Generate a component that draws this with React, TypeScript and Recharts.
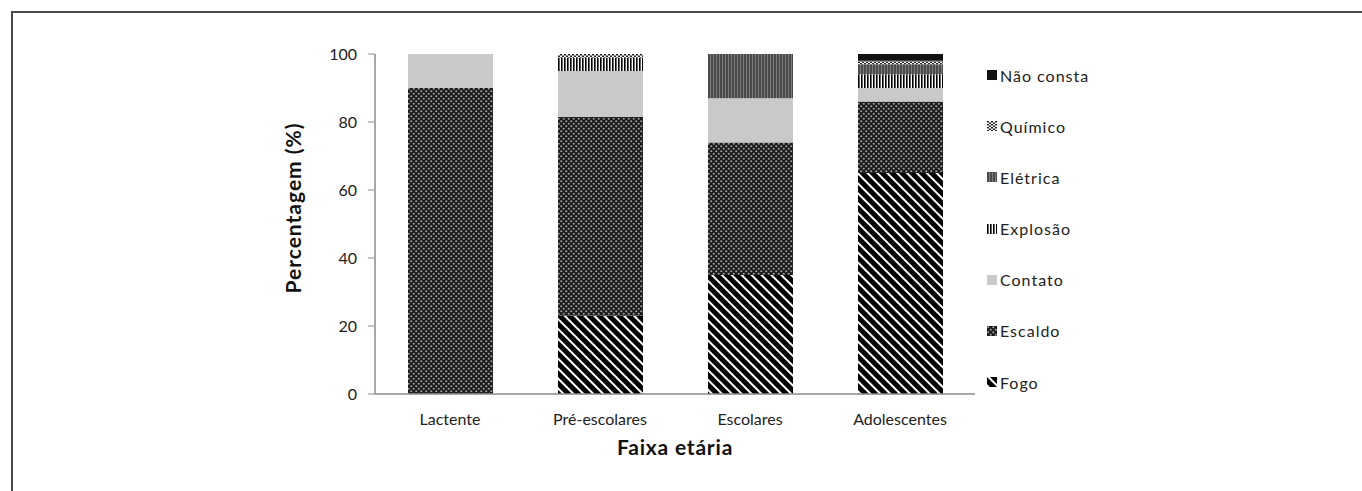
import { BarChart, Bar, XAxis, YAxis } from 'recharts'

// faixas etárias
const categories = ['Lactente', 'Pré-escolares', 'Escolares', 'Adolescentes']

// percentagem por agente causal
const fogo = [0, 23, 35, 65]
const escaldo = [90, 58.5, 39, 21]
const contato = [10, 13.5, 13, 4]
const explosao = [0, 4, 0, 4]
const eletrica = [0, 0, 13, 3]
const quimico = [0, 1, 0, 1]
const naoConsta = [0, 0, 0, 2]

const yTicks = [0, 20, 40, 60, 80, 100]

const series = [
  { key: 'fogo', name: 'Fogo', values: fogo, fill: 'url(#pFogo)' },
  { key: 'escaldo', name: 'Escaldo', values: escaldo, fill: 'url(#pEscaldo)' },
  { key: 'contato', name: 'Contato', values: contato, fill: '#c9c9c9' },
  { key: 'explosao', name: 'Explosão', values: explosao, fill: 'url(#pExplosao)' },
  { key: 'eletrica', name: 'Elétrica', values: eletrica, fill: 'url(#pEletrica)' },
  { key: 'quimico', name: 'Químico', values: quimico, fill: 'url(#pQuimico)' },
  { key: 'naoConsta', name: 'Não consta', values: naoConsta, fill: '#111' },
]

const data = categories.map((name, i) => {
  const row: Record<string, string | number> = { name }
  series.forEach(s => { row[s.key] = s.values[i] })
  return row
})

const font = 'Lato, "Open Sans", sans-serif'

export default function App() {
  return (
    <div style={{ position: 'absolute', left: 0, top: 0, width: 1362, height: 491, background: '#fff', overflow: 'hidden', fontFamily: font }}>
      {/* moldura da figura */}
      <div style={{ position: 'absolute', left: 11, top: 11, width: 1400, height: 520, borderTop: '2px solid #484848', borderLeft: '2px solid #484848' }} />

      <div style={{ position: 'absolute', left: 0, top: 0 }}>
        <BarChart width={1362} height={491} data={data} margin={{ top: 54, right: 387, bottom: 67, left: 315 }} barSize={85}>
          <defs>
            <pattern id="pFogo" width="7" height="7" patternUnits="userSpaceOnUse" patternTransform="rotate(-45)">
              <rect width="7" height="7" fill="#000" />
              <rect width="2" height="7" fill="#fff" />
            </pattern>
            <pattern id="pEscaldo" width="5" height="5" patternUnits="userSpaceOnUse">
              <rect width="5" height="5" fill="#1a1a1a" />
              <circle cx="1.25" cy="1.25" r="1.1" fill="#9a9a9a" />
              <circle cx="3.75" cy="3.75" r="1.1" fill="#9a9a9a" />
            </pattern>
            <pattern id="pExplosao" width="3" height="3" patternUnits="userSpaceOnUse">
              <rect width="3" height="3" fill="#fff" />
              <rect width="1.6" height="3" fill="#000" />
            </pattern>
            <pattern id="pEletrica" width="3" height="3" patternUnits="userSpaceOnUse">
              <rect width="3" height="3" fill="#4a4a4a" />
              <rect x="2" width="0.8" height="3" fill="#8a8a8a" />
            </pattern>
            <pattern id="pQuimico" width="4" height="3" patternUnits="userSpaceOnUse">
              <rect width="4" height="3" fill="#fff" />
              <rect width="2" height="1.5" fill="#222" />
              <rect x="2" y="1.5" width="2" height="1.5" fill="#222" />
            </pattern>
          </defs>
          <XAxis
            dataKey="name"
            axisLine={{ stroke: '#8a8a8a', strokeWidth: 1.5 }}
            tickLine={false}
            tickSize={0}
            tickMargin={20}
            tick={{ fill: '#222', fontSize: 16, fontFamily: font }}
          />
          <YAxis
            width={60}
            domain={[0, 100]}
            ticks={yTicks}
            interval={0}
            axisLine={{ stroke: '#8a8a8a', strokeWidth: 1.5 }}
            tickLine={{ stroke: '#8a8a8a' }}
            tickSize={7}
            tickMargin={11}
            tick={{ fill: '#222', fontSize: 16, fontFamily: font }}
          />
          {series.map(s => (
            <Bar key={s.key} dataKey={s.key} name={s.name} stackId="a" fill={s.fill} isAnimationActive={false} />
          ))}
        </BarChart>
      </div>

      {/* títulos dos eixos */}
      <div style={{ position: 'absolute', left: 292, top: 208, transform: 'translate(-50%, -50%) rotate(-90deg)', whiteSpace: 'nowrap', fontSize: 21, fontWeight: 700, color: '#111', letterSpacing: 1 }}>
        Percentagem (%)
      </div>
      <div style={{ position: 'absolute', left: 675, top: 446, transform: 'translate(-50%, -50%)', whiteSpace: 'nowrap', fontSize: 21, fontWeight: 700, color: '#111', letterSpacing: 0.8 }}>
        Faixa etária
      </div>

      {/* legenda */}
      <div style={{ position: 'absolute', left: 987, top: 63 }}>
        {[...series].reverse().map(s => (
          <div key={s.key} style={{ height: 51.2, display: 'flex', alignItems: 'flex-start' }}>
            <div style={{ display: 'flex', alignItems: 'center', height: 24 }}>
              <svg width="10" height="10" style={{ marginRight: 3 }}>
                <rect width="10" height="10" fill={s.fill} />
              </svg>
              <span style={{ fontSize: 16, color: '#222', letterSpacing: 1 }}>{s.name}</span>
            </div>
          </div>
        ))}
      </div>
    </div>
  )
}
